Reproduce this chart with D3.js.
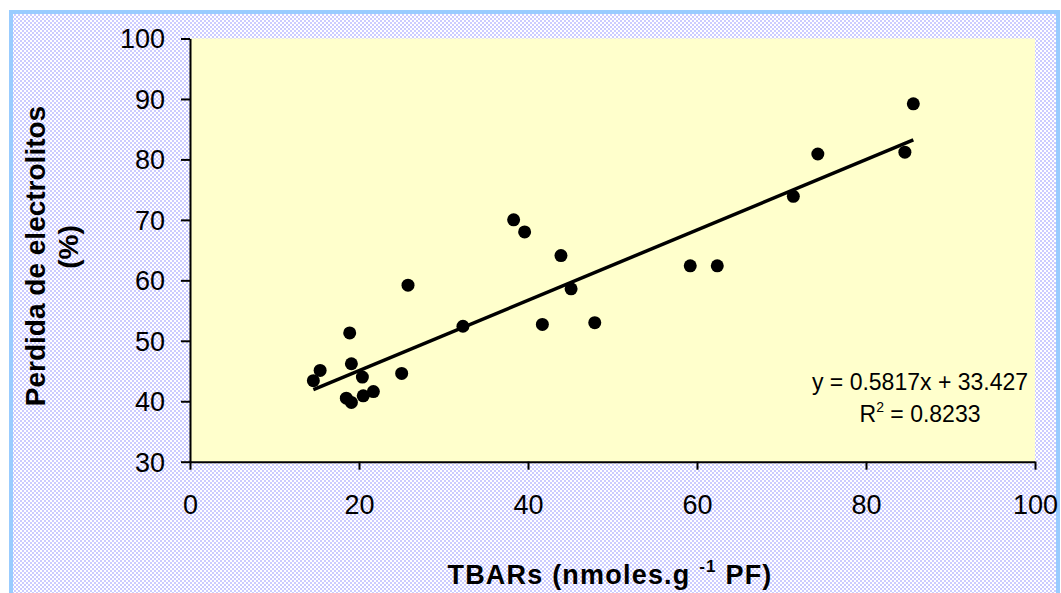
<!DOCTYPE html>
<html><head><meta charset="utf-8">
<script src="https://cdn.jsdelivr.net/npm/d3@7"></script>
<style>body{margin:0;background:#fff}svg{display:block}</style>
</head><body>
<svg id="c" width="1061" height="593"></svg>
<script>
const tbars = [14.6,15.4,18.9,19.1,18.5,19.1,20.4,20.5,21.7,25.05,25.8,32.3,38.3,39.6,43.9,45.1,41.7,47.9,59.2,62.4,71.4,74.3,84.6,85.6];
const perdida = [43.4,45.1,51.3,46.2,40.5,39.8,44.0,40.9,41.6,44.6,59.2,52.4,70.0,68.0,64.1,58.6,52.7,53.0,62.4,62.4,73.9,80.9,81.2,89.2];
const xTicks = [0,20,40,60,80,100];
const yTicks = [30,40,50,60,70,80,90,100];
const slope = 0.5817, intercept = 33.427, r2 = 0.8233;

const svg = d3.select("#c");
const defs = svg.append("defs");
const pat = defs.append("pattern").attr("id","chk").attr("width",4).attr("height",4).attr("patternUnits","userSpaceOnUse");
pat.append("rect").attr("width",4).attr("height",4).attr("fill","#ffffff");
pat.append("rect").attr("width",2).attr("height",2).attr("fill","#ccccff");
pat.append("rect").attr("x",2).attr("y",2).attr("width",2).attr("height",2).attr("fill","#ccccff");

svg.append("rect").attr("x",11).attr("y",12).attr("width",1047).attr("height",600)
  .attr("fill","url(#chk)").attr("stroke","#99ccff").attr("stroke-width",4);

const L=190,R=1035,T=38.5,B=461.7;
const x = d3.scaleLinear().domain([0,100]).range([L,R]);
const y = d3.scaleLinear().domain([30,100]).range([B,T]);

svg.append("rect").attr("x",L).attr("y",T).attr("width",R-L).attr("height",B-T).attr("fill","#ffffcc");

const font = "Liberation Sans, Arial, sans-serif";
const xa = svg.append("g").attr("transform",`translate(0,${B})`)
  .call(d3.axisBottom(x).tickValues(xTicks).tickSize(8).tickPadding(25).tickSizeOuter(0));
const ya = svg.append("g").attr("transform",`translate(${L},0)`)
  .call(d3.axisLeft(y).tickValues(yTicks).tickSize(9).tickPadding(16).tickSizeOuter(0));
[xa,ya].forEach(a=>{
  a.attr("font-size",27).attr("font-family",font);
  a.select(".domain").attr("stroke","#000").attr("stroke-width",2);
  a.selectAll(".tick line").attr("stroke","#000").attr("stroke-width",2);
  a.selectAll("text").attr("font-family",font).attr("font-size",27).attr("fill","#000");
});
ya.selectAll("text").attr("dy","0.35em");

const xmin = d3.min(tbars), xmax = d3.max(tbars);
svg.append("line").attr("x1",x(xmin)).attr("y1",y(slope*xmin+intercept))
  .attr("x2",x(xmax)).attr("y2",y(slope*xmax+intercept))
  .attr("stroke","#000").attr("stroke-width",3.5);

svg.append("g").selectAll("circle").data(tbars).join("circle")
  .attr("cx",d=>x(d)).attr("cy",(d,i)=>y(perdida[i])).attr("r",6.5).attr("fill","#000");

svg.append("text").attr("x",920).attr("y",390).attr("text-anchor","middle")
  .attr("font-family",font).attr("font-size",23).text(`y = ${slope}x + ${intercept}`);
const t2 = svg.append("text").attr("x",920).attr("y",422).attr("text-anchor","middle")
  .attr("font-family",font).attr("font-size",23);
t2.append("tspan").text("R");
t2.append("tspan").attr("font-size",14).attr("dy",-10).text("2");
t2.append("tspan").attr("dy",10).text(` = ${r2}`);

const xt = svg.append("text").attr("x",610).attr("y",584).attr("text-anchor","middle")
  .attr("font-family",font).attr("font-size",27).attr("font-weight","bold").attr("letter-spacing",1.2);
xt.append("tspan").text("TBARs (nmoles.g ");
xt.append("tspan").attr("font-size",17).attr("dy",-12).text("-1");
xt.append("tspan").attr("dy",12).text(" PF)");

const yt = svg.append("text").attr("transform","translate(45,256) rotate(-90)").attr("text-anchor","middle")
  .attr("font-family",font).attr("font-size",28).attr("font-weight","bold");
yt.append("tspan").attr("x",0).attr("y",0).text("Perdida de electrolitos");
yt.append("tspan").attr("x",9).attr("y",33).text("(%)");
</script>
</body></html>
